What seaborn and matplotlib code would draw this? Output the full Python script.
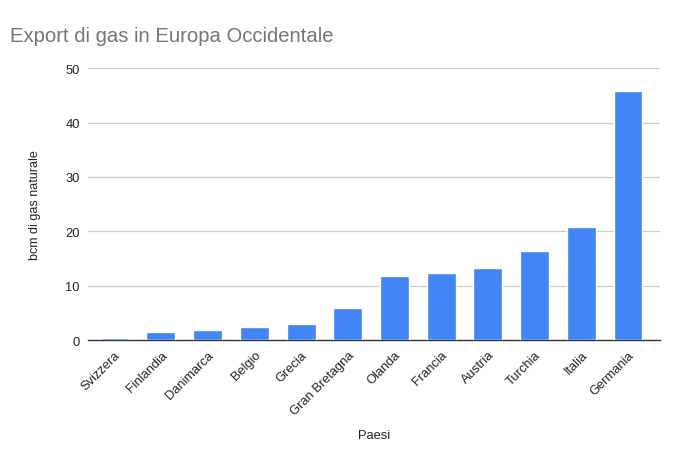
import matplotlib
matplotlib.use("Agg")
import matplotlib.pyplot as plt
import seaborn as sns
import pandas as pd

# dati
paesi = ["Svizzera", "Finlandia", "Danimarca", "Belgio", "Grecia", "Gran Bretagna",
         "Olanda", "Francia", "Austria", "Turchia", "Italia", "Germania"]
export_bcm = [0.3, 1.5, 1.8, 2.4, 2.9, 5.9, 11.7, 12.3, 13.2, 16.4, 20.8, 45.8]
y_ticks = [0, 10, 20, 30, 40, 50]

df = pd.DataFrame({"Paesi": paesi, "bcm": export_bcm})

sns.set_theme(style="white")
plt.rcParams["font.family"] = ["Liberation Sans", "DejaVu Sans"]

fig = plt.figure(figsize=(6.83, 4.64), dpi=100)
ax = fig.add_axes([0.129, 0.265, 0.837, 0.586])

sns.barplot(data=df, x="Paesi", y="bcm", color="#4285F4", saturation=1,
            width=0.62, ax=ax, zorder=3)

ax.set_ylim(0, 50)
ax.set_yticks(y_ticks)
ax.set_xlim(-0.56, 11.68)
ax.grid(axis="y", color="#cccccc", linewidth=0.9, zorder=0)
for s in ["top", "right", "left"]:
    ax.spines[s].set_visible(False)
ax.spines["bottom"].set_color("#333333")
ax.spines["bottom"].set_linewidth(1.0)
ax.spines["bottom"].set_zorder(2)

ax.tick_params(axis="both", length=0, labelsize=9.3, colors="#222222", pad=6)
plt.setp(ax.get_xticklabels(), rotation=45, ha="right", rotation_mode="anchor")

ax.set_xlabel("Paesi", fontsize=9.3, color="#222222", labelpad=9)
ax.set_ylabel("bcm di gas naturale", fontsize=9, color="#222222", labelpad=17.5)

fig.text(0.015, 0.9, "Export di gas in Europa Occidentale", fontsize=14.6,
         color="#757575", ha="left", va="bottom")

fig.savefig("out.png", dpi=100)
